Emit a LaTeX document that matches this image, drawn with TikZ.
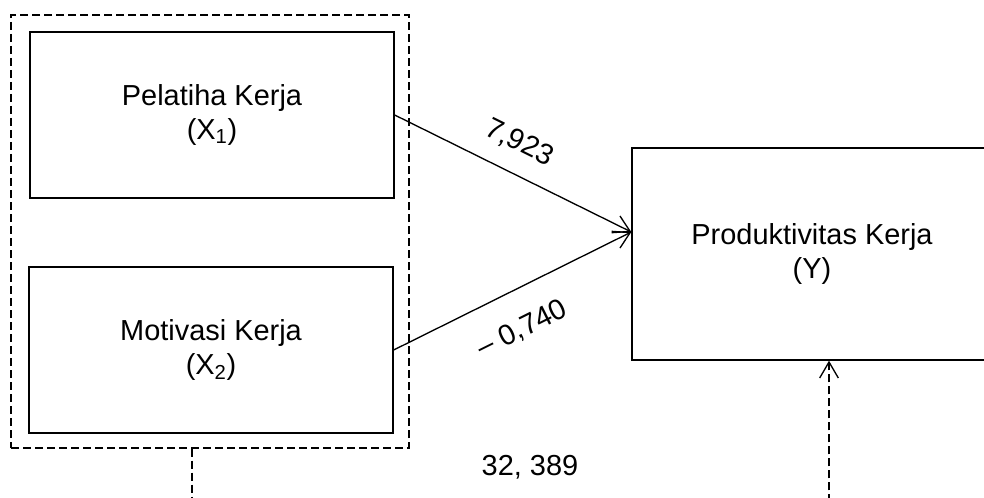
\documentclass[tikz,border=0pt]{standalone}
\usepackage{fontspec}
\setmainfont{Liberation Sans}
\usepackage{tikz}
\usetikzlibrary{positioning,arrows.meta}

\begin{document}
\begin{tikzpicture}[x=0.75pt,y=0.75pt,line width=1pt,
  every node/.style={font=\fontsize{21.7pt}{25.5pt}\selectfont,align=center},
  varbox/.style={draw,rectangle,inner sep=0pt,minimum width=273pt,minimum height=124.5pt},
  dashline/.style={dash pattern=on 6pt off 3pt},
  >={Straight Barb[length=12pt,width=14pt]}]
  \useasboundingbox (0,0) rectangle (984,497);
  \node[varbox] (x1) at (212,382) {Pelatiha Kerja\\(X\textsubscript{1})};
  \node[varbox] (x2) at (211,147) {Motivasi Kerja\\(X\textsubscript{2})};
  \node[draw,dashline,inner sep=0pt,minimum width=298.5pt,minimum height=324.75pt] (grp) at (210,265.5) {};
  \node[draw,inner sep=0pt,minimum width=270pt,minimum height=159pt] (y) at (812,243) {Produktivitas Kerja\\(Y)};
  \coordinate (yin) at ([yshift=16.5pt]y.west);
  \draw[->] (x1.east) -- node[pos=0.47,sloped,above=10pt]{7,923} (yin);
  \draw[->] (x2.east) -- node[pos=0.47,sloped,below=16pt]{– 0,740} (yin);
  % simultaneous effect
  \coordinate (jl) at (192,-20);
  \coordinate (jr) at (829,-20);
  \draw[dashline,->] (jl |- grp.south) -- (jl) -- (jr) -- (jr |- y.south);
  \node (f) at (530,30) {32, 389};
\end{tikzpicture}
\end{document}
